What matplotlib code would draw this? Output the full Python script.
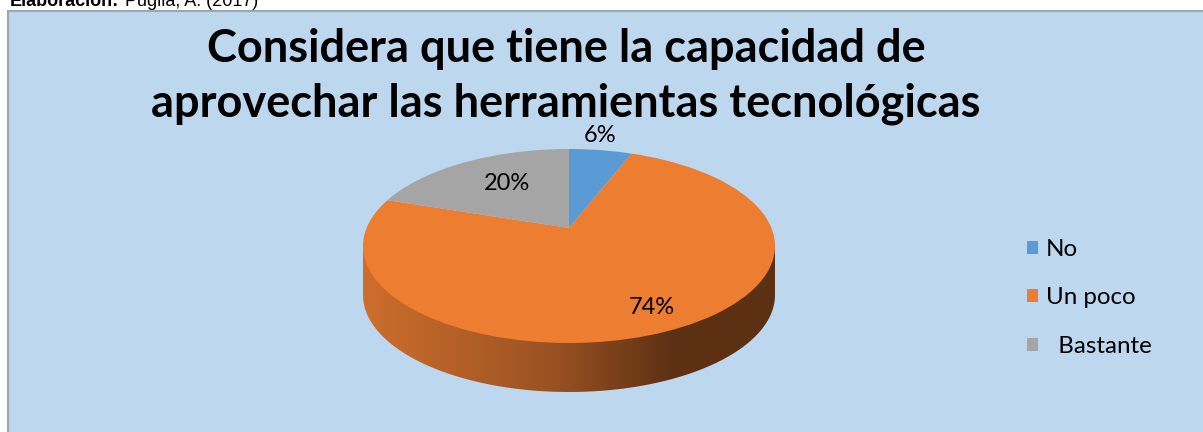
import numpy as np
import matplotlib
matplotlib.use("Agg")
import matplotlib.pyplot as plt
from matplotlib.patches import Rectangle, PathPatch, Circle
from matplotlib.path import Path
from matplotlib.colors import LinearSegmentedColormap

# datos
categorias = ["No", "Un poco", "  Bastante"]
porcentajes = [6, 74, 20]
colores = ["#5B9BD5", "#ED7D31", "#A5A5A5"]
titulo = ["Considera que tiene la capacidad de",
          "aprovechar las herramientas tecnológicas"]
fuente_txt = "Elaboración:"
fuente_autor = "Puglla, A. (2017)"

W, H = 1203, 432
fig = plt.figure(figsize=(W / 100, H / 100), dpi=100)
fig.patch.set_facecolor("white")
plt.rcParams["font.family"] = ["Lato", "DejaVu Sans"]

# caja del grafico
fig.add_artist(Rectangle((8 / W, -0.02), 1.05, (H - 11) / H + 0.02,
                         transform=fig.transFigure, fc="#BDD7EE", ec="#9EA5AD",
                         lw=1.5, zorder=-5))

# texto cortado arriba
fig.text(10 / W, 1 - 6 / H, fuente_txt, fontsize=13, fontweight="bold",
         family="Liberation Sans", va="baseline")
fig.text(125 / W, 1 - 6 / H, fuente_autor, fontsize=13,
         family="Liberation Sans", va="baseline")

# titulo
for linea, base in zip(titulo, [62, 116]):
    fig.text(566 / W, 1 - base / H, linea, fontsize=32.5, fontweight="bold",
             ha="center", va="baseline")

# eje de la torta (elipse en pixeles)
cx, cy, rx, ry, prof = 569, 246, 206, 97, 49
d = prof / ry
xl = (-1.2, 1.2)
yl = (-1 - d - 0.25, 1.35)
ax_w = (xl[1] - xl[0]) * rx
ax_h = (yl[1] - yl[0]) * ry
left = cx + xl[0] * rx
top = cy - yl[1] * ry
ax = fig.add_axes([left / W, 1 - (top + ax_h) / H, ax_w / W, ax_h / H])
ax.axis("off")

# lateral con degradado
t = np.linspace(np.pi, 2 * np.pi, 200)
verts = [(-1, 0)] + list(zip(np.cos(t), np.sin(t) - d)) + [(1, 0), (-1, 0)]
lado = PathPatch(Path(verts, closed=True), transform=ax.transData, fc="none", ec="none")
ax.add_patch(lado)
cmap = LinearSegmentedColormap.from_list(
    "lado", [(0, "#CD6E2C"), (0.45, "#9B5323"), (0.75, "#5E3114"), (1, "#5C3013")])
grad = np.linspace(0, 1, 256).reshape(1, -1)
im = ax.imshow(grad, cmap=cmap, extent=(-1, 1, -1 - d, 0), aspect="auto", zorder=1)
im.set_clip_path(lado)

# cara superior: vertice desplazado por la perspectiva, recortada a la elipse
cara = Circle((0, 0), 1, fc="none", ec="none")
ax.add_patch(cara)
wedges, _ = ax.pie(porcentajes, colors=colores, startangle=90, counterclock=False,
                   center=(0, 0.186), radius=1.6, wedgeprops=dict(linewidth=0))
for w in wedges:
    w.set_zorder(2)
    w.set_clip_on(True)
    w.set_clip_path(cara)

# etiquetas
label_pos = [(0.15, 1.14), (0.40, -0.63), (-0.30, 0.64)]
for v, (lx, ly) in zip(porcentajes, label_pos):
    ax.text(lx, ly, f"{v}%", ha="center", va="center", fontsize=17, zorder=5)

ax.set_aspect("auto")
ax.set_xlim(*xl)
ax.set_ylim(*yl)

fig.legend(wedges, categorias, loc="center left",
           bbox_to_anchor=(1005 / W, 1 - 298 / H), frameon=False, fontsize=17.4,
           handlelength=0.45, handleheight=0.45, handletextpad=0.35, labelspacing=1.15)

fig.savefig("out.png", dpi=100, facecolor="white")
